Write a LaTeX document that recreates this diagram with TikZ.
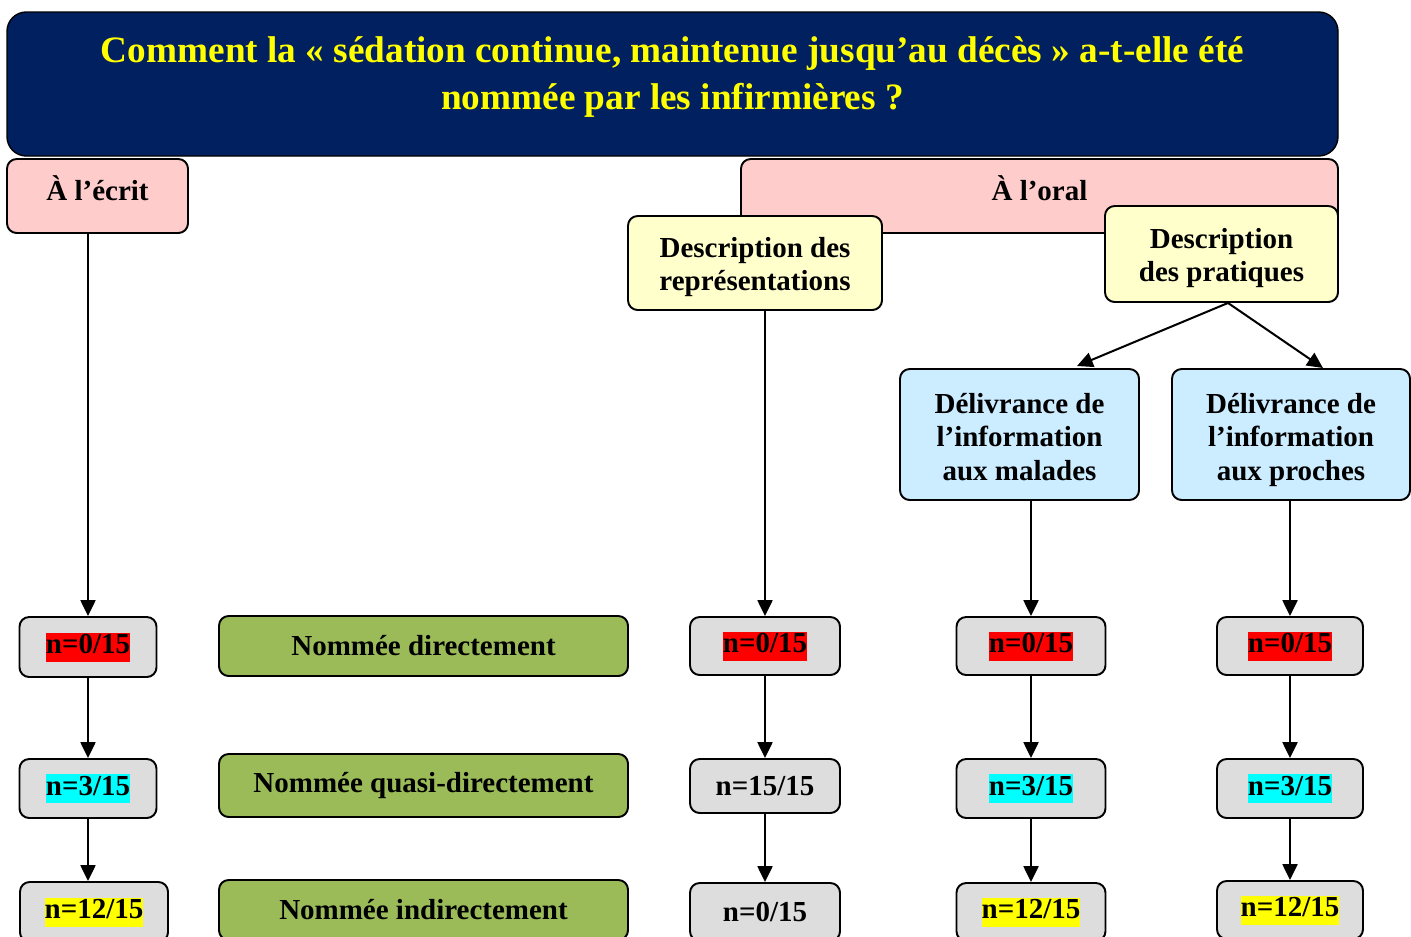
\documentclass[tikz,border=0pt]{standalone}
\usepackage{fontspec}
\setmainfont{Liberation Serif}
\usepackage{tikz}
\usetikzlibrary{arrows.meta}

\definecolor{navy}{RGB}{0,32,96}
\definecolor{rose}{RGB}{255,204,204}
\definecolor{paleyellow}{RGB}{255,255,204}
\definecolor{paleblue}{RGB}{204,236,255}
\definecolor{olive}{RGB}{155,187,89}
\definecolor{lightgray}{RGB}{221,221,221}
\definecolor{hlred}{RGB}{255,0,0}
\definecolor{hlcyan}{RGB}{0,255,255}
\definecolor{hlyellow}{RGB}{255,255,0}

\newcommand{\hl}[2]{{\setlength{\fboxsep}{0pt}\colorbox{#1}{\rule[-0.26em]{0pt}{1em}#2}}}

\begin{document}
\begin{tikzpicture}[x=0.02cm,y=-0.02cm,
  boxsize/.style 2 args={minimum width=#1*0.02cm, minimum height=#2*0.02cm},
  box/.style={draw, line width=1.1pt, rounded corners=5.5pt, align=center, inner sep=0pt,
    font=\fontsize{16.5}{19.2}\selectfont\bfseries},
  pinkbox/.style={box, fill=rose, text height=14pt, text depth=9pt},
  yellowbox/.style={box, fill=paleyellow, text height=35.2pt},
  bluebox/.style={box, fill=paleblue, text height=52.4pt, text depth=0pt},
  greenbox/.style={box, fill=olive},
  graybox/.style={box, fill=lightgray},
  arr/.style={line width=1.15pt, -{Triangle[width=8.5pt,length=9pt]}}]
\clip (0,0) rectangle (1411,937);

% titre
\node[draw, line width=0.8pt, fill=navy, rounded corners=11pt, boxsize={1331}{144}] (q) at (672.5,84) {};
\node[text=hlyellow, align=center, font=\fontsize{21.2}{27}\selectfont\bfseries] (qtext) at (672.5,77)
  {Comment la « sédation continue, maintenue jusqu’au décès » a-t-elle été\\nommée par les infirmières ?};

\node[pinkbox, boxsize={181}{74}] (ecrit) at (97.5,196) {À l’écrit};
\node[pinkbox, boxsize={597}{74}] (oral) at (1039.5,196) {À l’oral};
\node[yellowbox, boxsize={254}{94}] (rep) at (755,263) {Description des\\représentations};
\node[yellowbox, boxsize={233}{96}] (prat) at (1221.5,254) {Description\\des pratiques};
\node[bluebox, boxsize={239}{131}] (mal) at (1019.5,434.5) {Délivrance de\\l’information\\aux malades};
\node[bluebox, boxsize={238}{131}] (proch) at (1291,434.5) {Délivrance de\\l’information\\aux proches};

\node[greenbox, boxsize={409}{60}] (g1) at (423.5,646) {Nommée directement};
\node[greenbox, boxsize={409}{63}] (g2) at (423.5,785.5) {Nommée quasi-directement};
\node[greenbox, boxsize={409}{60}] (g3) at (423.5,910) {Nommée indirectement};

\node[graybox, boxsize={137}{60}] (e1) at (88,647) {\hl{hlred}{n=0/15}};
\node[graybox, boxsize={137}{59}] (e2) at (88,788.5) {\hl{hlcyan}{n=3/15}};
\node[graybox, boxsize={148}{60}] (e3) at (94,912) {\hl{hlyellow}{n=12/15}};

\node[graybox, boxsize={150}{58}] (r1) at (765,646) {\hl{hlred}{n=0/15}};
\node[graybox, boxsize={150}{54}] (r2) at (765,786) {n=15/15};
\node[graybox, boxsize={150}{58}] (r3) at (765,912) {n=0/15};

\node[graybox, boxsize={149}{58}] (m1) at (1031,646) {\hl{hlred}{n=0/15}};
\node[graybox, boxsize={149}{59}] (m2) at (1031,788.5) {\hl{hlcyan}{n=3/15}};
\node[graybox, boxsize={149}{58}] (m3) at (1031,912) {\hl{hlyellow}{n=12/15}};

\node[graybox, boxsize={146}{58}] (p1) at (1290,646) {\hl{hlred}{n=0/15}};
\node[graybox, boxsize={146}{59}] (p2) at (1290,788.5) {\hl{hlcyan}{n=3/15}};
\node[graybox, boxsize={146}{58}] (p3) at (1290,910) {\hl{hlyellow}{n=12/15}};

\coordinate (malin) at (1077,366);
\coordinate (prochin) at (1323,368);

\draw[arr] (ecrit.south -| e1.north) -- (e1.north);
\draw[arr] (e1.south) -- (e2.north);
\draw[arr] (e2.south) -- (e2.south |- e3.north);

\draw[arr] (rep.south -| r1.north) -- (r1.north);
\draw[arr] (r1.south) -- (r2.north);
\draw[arr] (r2.south) -- (r3.north);

\draw[arr] ([xshift=0.13cm]prat.south) -- (malin);
\draw[arr] ([xshift=0.13cm]prat.south) -- (prochin);

\draw[arr] (mal.south -| m1.north) -- (m1.north);
\draw[arr] (m1.south) -- (m2.north);
\draw[arr] (m2.south) -- (m3.north);

\draw[arr] (proch.south -| p1.north) -- (p1.north);
\draw[arr] (p1.south) -- (p2.north);
\draw[arr] (p2.south) -- (p3.north);
\end{tikzpicture}
\end{document}
